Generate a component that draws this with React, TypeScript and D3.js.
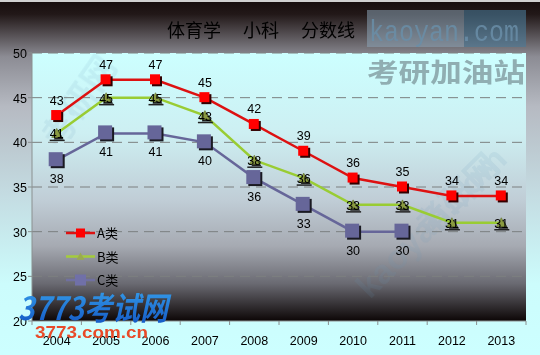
import React from "react";
import * as d3 from "d3";

const years = ["2004", "2005", "2006", "2007", "2008", "2009", "2010", "2011", "2012", "2013"];
const seriesA = [43, 47, 47, 45, 42, 39, 36, 35, 34, 34];
const seriesB = [41, 45, 45, 43, 38, 36, 33, 33, 31, 31];
const seriesC = [38, 41, 41, 40, 36, 33, 30, 30];
const yTicks = [20, 25, 30, 35, 40, 45, 50];
const seriesNames = ["A类", "B类", "C类"];
const title = "体育学　 小科　 分数线";

const W = 540, H = 355;
const L = 32, R = 526, T = 53, B = 321;

export default function App() {
  const x = d3.scaleBand<string>().domain(years).range([L, R]);
  const cx = (i: number) => (x(years[i]) as number) + x.bandwidth() / 2;
  const y = d3.scaleLinear().domain([20, 50]).range([B, T]);
  const line = d3.line<number>().x((_, i) => cx(i)).y((v) => y(v));
  const numFont = "'Liberation Sans', Arial, sans-serif";
  const cjk = "'Noto Sans CJK SC', sans-serif";

  const tri = (px: number, py: number, s: number) =>
    `M${px},${py - s} L${px + s},${py + s * 0.8} L${px - s},${py + s * 0.8} Z`;

  return (
    <svg width={W} height={H} style={{ position: "fixed", left: 0, top: 0 }} xmlns="http://www.w3.org/2000/svg">
      <defs>
        <linearGradient id="outerG" x1="0" y1="0" x2="0" y2="1">
          <stop offset="0" stopColor="#150c0c" />
          <stop offset="0.04" stopColor="#221818" />
          <stop offset="0.16" stopColor="#8c8c94" />
          <stop offset="0.3" stopColor="#b6bac2" />
          <stop offset="0.55" stopColor="#c4dce2" />
          <stop offset="0.8" stopColor="#ccfcfc" />
          <stop offset="1" stopColor="#ccffff" />
        </linearGradient>
        <linearGradient id="plotG" x1="0" y1="0" x2="0" y2="1">
          <stop offset="0" stopColor="#ccffff" />
          <stop offset="0.3" stopColor="#cdeff2" />
          <stop offset="0.55" stopColor="#c0cdd6" />
          <stop offset="0.72" stopColor="#a6aab2" />
          <stop offset="0.86" stopColor="#6a6a72" />
          <stop offset="1" stopColor="#0c0606" />
        </linearGradient>
        <linearGradient id="logoG" x1="0" y1="0" x2="0" y2="1">
          <stop offset="0" stopColor="#3aa8f0" />
          <stop offset="1" stopColor="#1050c0" />
        </linearGradient>
      </defs>
      <rect x={0} y={0} width={W} height={H} fill="url(#outerG)" />
      <rect x={0} y={0} width={W} height={2} fill="#d0d0d0" />
      <rect x={L} y={T} width={R - L} height={B - T} fill="url(#plotG)" />

      {/* faint diagonal watermarks */}
      <g opacity={0.12} fill="#6a9ab8" fontFamily={cjk} fontWeight="bold" fontSize={34}>
        <text transform="translate(60,150) rotate(-55)">考研网</text>
        <text transform="translate(370,300) rotate(-45)" fontFamily={numFont}>kaoyan.com</text>
        <text transform="translate(430,240) rotate(-45)">考研网</text>
      </g>

      {/* gridlines */}
      {yTicks.filter((t) => t > 20).map((t) => (
        <line key={t} x1={L} x2={R} y1={y(t)} y2={y(t)} stroke="#7c8080" strokeWidth={1} strokeDasharray="10,6" />
      ))}

      {/* axes */}
      <line x1={L} x2={L} y1={T} y2={B} stroke="#8a9090" />
      <line x1={L} x2={R} y1={B} y2={B} stroke="#8a9090" />
      {yTicks.map((t) => (
        <g key={t}>
          <line x1={L - 4} x2={L} y1={y(t)} y2={y(t)} stroke="#8a9090" />
          <text x={27} y={y(t) + 5} textAnchor="end" fontFamily={numFont} fontSize={12.5} fill="#000">{t}</text>
        </g>
      ))}
      {years.map((yr, i) => (
        <g key={yr}>
          <line x1={x(yr) as number} x2={x(yr) as number} y1={B} y2={B + 4} stroke="#8a9090" />
          <text x={cx(i)} y={345} textAnchor="middle" fontFamily={numFont} fontSize={12.5} fill="#000">{yr}</text>
        </g>
      ))}
      <line x1={R} x2={R} y1={B} y2={B + 4} stroke="#8a9090" />

      {/* title */}
      <text x={261} y={37} textAnchor="middle" fontFamily={cjk} fontSize={18} fill="#000">{title}</text>

      {/* lines */}
      <path d={line(seriesC) as string} fill="none" stroke="#666699" strokeWidth={2.5} />
      <path d={line(seriesB) as string} fill="none" stroke="#99cc33" strokeWidth={2.5} />
      <path d={line(seriesA) as string} fill="none" stroke="#dd1111" strokeWidth={2.5} />

      {/* C markers */}
      {seriesC.map((v, i) => (
        <g key={"c" + i}>
          <rect x={cx(i) - 6} y={y(v) - 6} width={14} height={14} fill="#1a1a22" />
          <rect x={cx(i) - 8} y={y(v) - 8} width={14} height={14} fill="#666699" />
          <text x={cx(i)} y={y(v) + 23} textAnchor="middle" fontFamily={numFont} fontSize={12.5} fill="#000">{v}</text>
        </g>
      ))}
      {/* B markers */}
      {seriesB.map((v, i) => (
        <g key={"b" + i}>
          <path d={tri(cx(i) + 2, y(v) + 2, 5)} fill="#222" />
          <path d={tri(cx(i), y(v), 5)} fill="#8a9a40" stroke="#556622" strokeWidth={0.5} />
          <text x={cx(i)} y={y(v) + 5} textAnchor="middle" fontFamily={numFont} fontSize={12.5} fill="#000">{v}</text>
          <line x1={cx(i) - 7} x2={cx(i) + 8} y1={y(v) + 7} y2={y(v) + 7} stroke="#222" strokeWidth={1.5} />
        </g>
      ))}
      {/* A markers */}
      {seriesA.map((v, i) => (
        <g key={"a" + i}>
          <rect x={cx(i) - 3.5} y={y(v) - 3.5} width={10} height={10} fill="#300" />
          <rect x={cx(i) - 5.5} y={y(v) - 5.5} width={10} height={10} fill="#ff0000" />
          <text x={cx(i)} y={y(v) - 11} textAnchor="middle" fontFamily={numFont} fontSize={12.5} fill="#000">{v}</text>
        </g>
      ))}

      {/* legend */}
      {seriesNames.map((n, i) => {
        const ly = 233 + i * 23.5;
        const col = ["#dd1111", "#a4cc3c", "#7070a0"][i];
        return (
          <g key={n}>
            <line x1={66} x2={95} y1={ly} y2={ly} stroke={col} strokeWidth={2.5} />
            {i === 0 && <rect x={76} y={ly - 4.5} width={9} height={9} fill="#ff0000" />}
            {i === 1 && <path d={tri(80.5, ly, 4)} fill="#9aaa50" />}
            {i === 2 && <rect x={75} y={ly - 5.5} width={11} height={11} fill="#7070a8" />}
            <text x={97} y={ly + 5} fontFamily={cjk} fontSize={13} fill="#000">{n}</text>
          </g>
        );
      })}

      {/* kaoyan watermark */}
      <rect x={367} y={10} width={97} height={37} fill="#8aa2b4" opacity={0.55} />
      <rect x={464} y={10} width={62} height={37} fill="#4a7a98" opacity={0.6} />
      <text x={369} y={41} fontFamily="'Liberation Mono', monospace" fontSize={30} fill="#6a8ea8" opacity={0.85} textLength={150} lengthAdjust="spacingAndGlyphs">kaoyan.com</text>
      <text x={367} y={82} fontFamily={cjk} fontWeight="bold" fontSize={26} fill="#8aa6aa" opacity={0.9} textLength={158} lengthAdjust="spacingAndGlyphs">考研加油站</text>

      {/* 3773 logo */}
      <text x={18} y={320} fontFamily={cjk} fontWeight="bold" fontStyle="italic" fontSize={32} fill="url(#logoG)" textLength={150} lengthAdjust="spacingAndGlyphs">3773考试网</text>
      <text x={35} y={338} fontFamily={numFont} fontWeight="bold" fontSize={17} fill="#e84a28" textLength={113} lengthAdjust="spacingAndGlyphs">3773.com.cn</text>
    </svg>
  );
}
